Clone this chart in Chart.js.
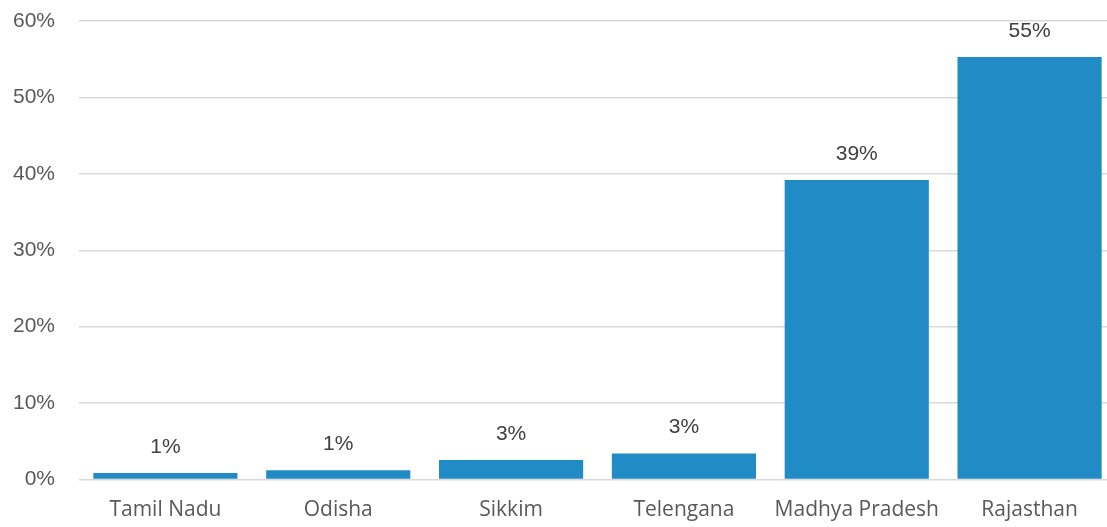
<!DOCTYPE html>
<html>
<head>
    <title>Share by State</title>
    <style>
        body { margin: 0; padding: 0; overflow: hidden; background: #fff; }
        #chartBox { width: 1116px; height: 527px; }
    </style>
    <script src="https://cdn.jsdelivr.net/npm/chart.js"></script>
</head>
<body>
    <div id="chartBox">
        <canvas id="stateChart"></canvas>
    </div>

    <script>
        const states = ['Tamil Nadu', 'Odisha', 'Sikkim', 'Telengana', 'Madhya Pradesh', 'Rajasthan'];
        const shares = [0.85, 1.2, 2.55, 3.4, 39.2, 55.3];
        const yTicks = [0, 10, 20, 30, 40, 50, 60];

        // draws the rounded % above each bar
        const barLabels = {
            id: 'barLabels',
            afterDatasetsDraw(chart) {
                const ctx = chart.ctx;
                const meta = chart.getDatasetMeta(0);
                ctx.save();
                ctx.font = '21px "Liberation Sans", Arial, sans-serif';
                ctx.fillStyle = '#404040';
                ctx.textAlign = 'center';
                ctx.textBaseline = 'middle';
                meta.data.forEach((bar, i) => {
                    ctx.fillText(Math.round(shares[i]) + '%', bar.x, bar.y - 26);
                });
                ctx.restore();
            }
        };

        const ctx = document.getElementById('stateChart').getContext('2d');
        new Chart(ctx, {
            type: 'bar',
            data: {
                labels: states,
                datasets: [{
                    data: shares,
                    backgroundColor: '#208BC4',
                    borderWidth: 0,
                    barPercentage: 0.834,
                    categoryPercentage: 1
                }]
            },
            options: {
                responsive: true,
                maintainAspectRatio: false,
                animation: false,
                layout: { padding: { top: 21, right: 0, left: 0, bottom: 0 } },
                plugins: {
                    legend: { display: false },
                    tooltip: { enabled: false }
                },
                scales: {
                    x: {
                        grid: { display: false, drawTicks: false },
                        border: { display: false },
                        ticks: {
                            color: '#595959',
                            padding: 18,
                            maxRotation: 0,
                            font: { family: '"Open Sans", sans-serif', size: 21 }
                        },
                        afterFit(axis) { axis.height = 47.5; }
                    },
                    y: {
                        min: 0,
                        max: 60,
                        afterBuildTicks(axis) { axis.ticks = yTicks.map(v => ({ value: v })); },
                        grid: { color: '#d9d9d9', lineWidth: 1.5, drawTicks: false },
                        border: { display: false },
                        ticks: {
                            color: '#595959',
                            padding: 24,
                            font: { family: '"Liberation Sans", Arial, sans-serif', size: 21 },
                            callback: v => v + '%'
                        },
                        afterFit(axis) {
                            axis.width = 79;
                            axis.paddingTop = 0;
                            axis.paddingBottom = 0;
                        }
                    }
                }
            },
            plugins: [barLabels]
        });
    </script>
</body>
</html>
